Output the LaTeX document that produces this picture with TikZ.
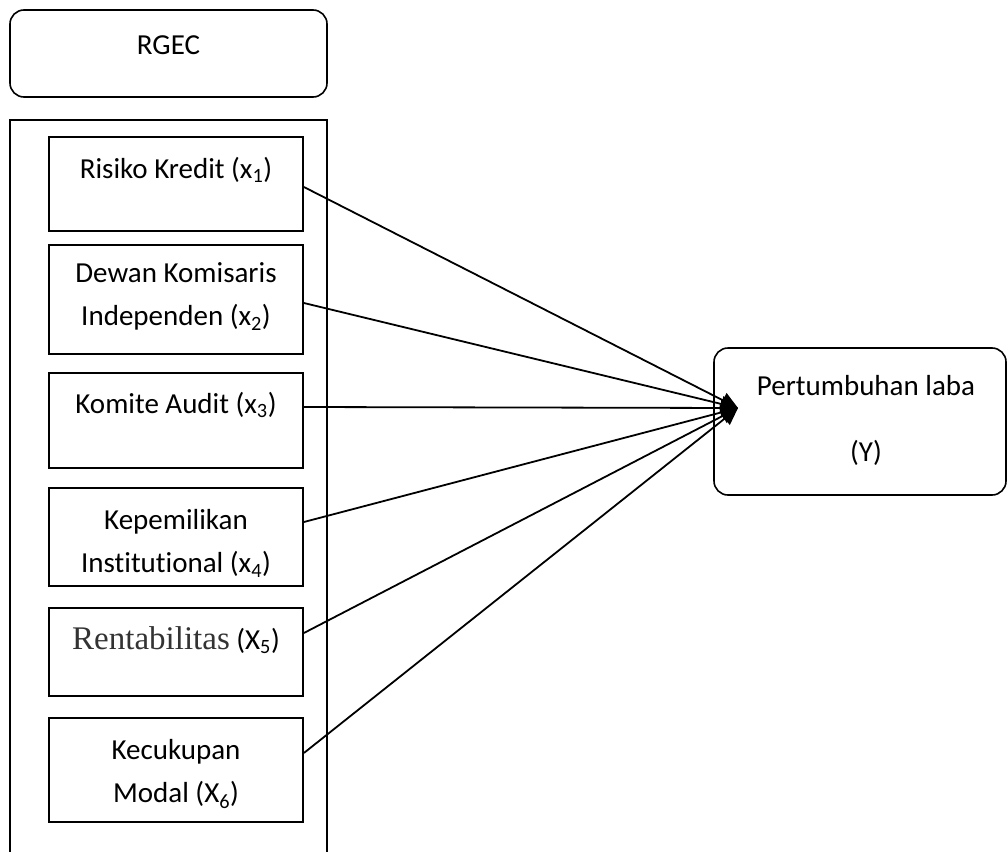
\documentclass[tikz,border=0pt]{standalone}
\usepackage{fontspec}
\setmainfont[Ligatures={TeX,NoCommon}]{Carlito}
\newfontfamily\timesfont{Liberation Serif}
\usetikzlibrary{arrows.meta}

\tikzset{
  box/.style={draw, line width=1.8pt, minimum width=254pt, inner sep=0pt},
  roundbox/.style={draw, line width=1.6pt, rounded corners=14pt, inner sep=0pt},
  txt/.style={align=center, inner sep=0pt, font=\fontsize{29}{43}\selectfont},
  arr/.style={line width=1.8pt, -{Triangle[length=17pt,width=16pt]}},
}

\begin{document}
\begin{tikzpicture}[x=1pt, y=-1pt]
\useasboundingbox (0,0) rectangle (1008,851);

% group frames
\node[roundbox, minimum width=317pt, minimum height=87pt] (rgec) at (168.5,53.5) {};
\node[txt] (trgec) at (168.5,45) {RGEC};
\node[box, minimum width=317pt, minimum height=740pt] (grp) at (168.5,490) {};

% variables
\node[box, minimum height=94pt]  (b1) at (176,184)   {};
\node[box, minimum height=109pt] (b2) at (176,299.5) {};
\node[box, minimum height=95pt]  (b3) at (176,420.5) {};
\node[box, minimum height=98pt]  (b4) at (176,537)   {};
\node[box, minimum height=88pt]  (b5) at (176,652)   {};
\node[box, minimum height=104pt] (b6) at (176,770)   {};

\node[txt] (t1) at (176,170)   {Risiko Kredit (x\textsubscript{1})};
\node[txt] (t2) at (176,296.5) {Dewan Komisaris\\Independen (x\textsubscript{2})};
\node[txt] (t3) at (176,405)   {Komite Audit (x\textsubscript{3})};
\node[txt] (t4) at (176,543.5) {Kepemilikan\\Institutional (x\textsubscript{4})};
\node[txt] (t5) at (176,640)   {{\timesfont\fontsize{33}{40}\selectfont\color{black!80}Rentabilitas} (X\textsubscript{5})};
\node[txt] (t6) at (176,774)   {Kecukupan\\Modal (X\textsubscript{6})};

% dependent
\node[roundbox, minimum width=292pt, minimum height=147pt] (y) at (860,421.5) {};
\node[txt] (ty) at (866,420) {Pertumbuhan laba\\[23pt](Y)};

\coordinate (hub) at (738,408);

\draw[arr] ([yshift=-3pt]b1.east)   -- (hub);
\draw[arr] ([yshift=-3.5pt]b2.east) -- (hub);
\draw[arr] ([yshift=13.5pt]b3.east) -- (hub);
\draw[arr] ([yshift=15pt]b4.east)   -- (hub);
\draw[arr] ([yshift=19pt]b5.east)   -- (hub);
\draw[arr] ([yshift=17pt]b6.east)   -- (hub);

\end{tikzpicture}
\end{document}
